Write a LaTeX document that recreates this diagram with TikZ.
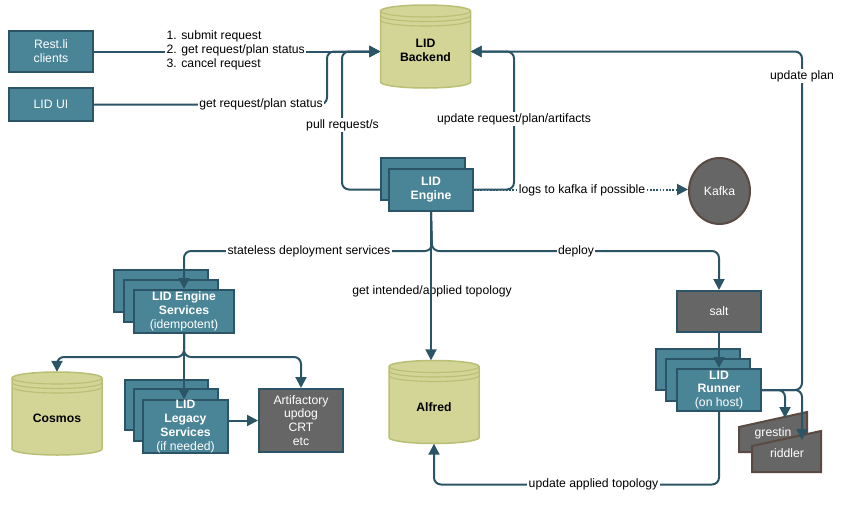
\documentclass[tikz,border=0pt]{standalone}
\usepackage{fontspec}
\setmainfont{Liberation Sans}
\usetikzlibrary{arrows.meta,calc,shapes.geometric}
\definecolor{tealf}{HTML}{4A8597}
\definecolor{tealb}{HTML}{2B5566}
\definecolor{lnc}{HTML}{2B5566}
\definecolor{cylf}{HTML}{D2D596}
\definecolor{cylb}{HTML}{B9BF74}
\definecolor{grayf}{HTML}{666666}
\definecolor{brownb}{HTML}{5A4A42}
\newcommand{\dbcyl}[2]{%
  \begin{scope}[shift={(#1,#2)}]
    \path[cyl] (-45,-35.5) -- (-45,35.5)
      arc[start angle=180,end angle=360,x radius=45pt,y radius=6pt]
      -- (45,-35.5)
      arc[start angle=0,end angle=180,x radius=45pt,y radius=6pt] -- cycle;
    \draw[draw=cylb, line width=1.1pt] (-45,-35.5) arc[start angle=180,end angle=360,x radius=45pt,y radius=6pt];
    \draw[draw=cylb, line width=1.1pt] (-45,-31) arc[start angle=180,end angle=360,x radius=45pt,y radius=6pt];
    \draw[draw=cylb, line width=1.1pt] (-45,-26.5) arc[start angle=180,end angle=360,x radius=45pt,y radius=6pt];
  \end{scope}}
\begin{document}
\begin{tikzpicture}[x=1pt,y=-1pt,
  every node/.style={font=\fontsize{12.2}{13.8}\selectfont},
  box/.style={draw=tealb, fill=tealf, line width=2pt, text=white, align=center, inner sep=0pt},
  graybox/.style={draw=tealb, fill=grayf, line width=2pt, text=white, align=center, inner sep=0pt},
  conn/.style={draw=lnc, line width=2pt, rounded corners=7pt, -{Triangle[length=11pt,width=11pt]}},
  lbl/.style={fill=white, inner sep=1.5pt, text=black, align=center},
  cyl/.style={draw=cylb, fill=cylf, line width=1.5pt},
  geo/.style={inner sep=0pt, minimum width=90pt, minimum height=83pt},
]
\useasboundingbox[fill=white] (0,0) rectangle (854,509);

% ---------- cylinders ----------
\dbcyl{425.5}{46.5}
\node[geo] (backend) at (425.5,46.5) {};
\node[align=center] (backendlbl) at (425.5,50) {\textbf{LID}\\\textbf{Backend}};
\dbcyl{57}{413.5}
\node[geo] (cosmos) at (57,413.5) {};
\node (cosmoslbl) at (57,418) {\textbf{Cosmos}};
\dbcyl{434}{402}
\node[geo] (alfred) at (434,402) {};
\node (alfredlbl) at (434,407) {\textbf{Alfred}};

% ---------- boxes ----------
\node[box, minimum width=84pt, minimum height=41pt] (rest) at (51,51.5) {Rest.li\\clients};
\node[box, minimum width=84pt, minimum height=33pt] (ui) at (51,104.5) {LID UI};

\node[box, minimum width=84pt, minimum height=42pt] (engineb) at (423,179) {};
\node[box, minimum width=84pt, minimum height=42pt] (engine) at (431,189.5) {\textbf{LID}\\\textbf{Engine}};

\node[draw=brownb, fill=grayf, ellipse, line width=2pt, text=white, minimum width=61pt, minimum height=66pt, inner sep=0pt] (kafka) at (719.5,191) {Kafka};

\node[box, minimum width=94pt, minimum height=42pt] (esvcb) at (161,291) {};
\node[box, minimum width=94pt, minimum height=42pt] (esvcm) at (170.5,301) {};
\node[box, minimum width=100pt, minimum height=43pt] (esvc) at (184,311.5) {\textbf{LID Engine}\\\textbf{Services}\\(idempotent)};

\node[box, minimum width=83pt, minimum height=50pt] (legacyb) at (166.5,405) {};
\node[box, minimum width=84pt, minimum height=52pt] (legacym) at (176,415) {};
\node[box, minimum width=85pt, minimum height=51pt] (legacy) at (185.5,426.5) {\textbf{LID}\\\textbf{Legacy}\\\textbf{Services}\\(if needed)};

\node[graybox, minimum width=84pt, minimum height=63pt] (art) at (301,420.5) {Artifactory\\updog\\CRT\\etc};

\node[graybox, minimum width=84pt, minimum height=41pt] (salt) at (719,311.5) {salt};

\node[box, minimum width=84pt, minimum height=41pt] (runnerb) at (698,369.5) {};
\node[box, minimum width=84pt, minimum height=42pt] (runnerm) at (708,380) {};
\node[box, minimum width=84pt, minimum height=42pt] (runner) at (719,390) {\textbf{LID}\\\textbf{Runner}\\(on host)};

% grestin / riddler
\node[inner sep=0pt, minimum width=68pt, minimum height=40pt] (grestin) at (773,432) {};
\draw[draw=brownb, fill=grayf, line width=2pt] (739,427) -- (807,412) -- (807,452) -- (739,452) -- cycle;
\node[text=white] (grestinlbl) at (773,433) {grestin};
\node[inner sep=0pt, minimum width=69pt, minimum height=41pt] (riddler) at (786.5,451.5) {};
\draw[draw=brownb, fill=grayf, line width=2pt] (752,446) -- (821,431) -- (821,472) -- (752,472) -- cycle;
\node[text=white] (riddlerlbl) at (787,453) {riddler};
\coordinate (grestintop) at (785,418);
\coordinate (riddlertop) at (802,440);

% ---------- connectors ----------
\draw[conn] (rest.east) -- (rest.east -| backend.west);
\draw[conn] (ui.east) -- (327,104.5) -- (327,51.5) -- (rest.east -| backend.west);
\draw[conn] (engine.center -| engineb.west) -- (342,189.5) -- (342,51.5) -- (rest.east -| backend.west);
\draw[conn] (engine.east) -- (514,189.5) -- (514,51.5) -- (rest.east -| backend.east);
\draw[conn] (runner.east) -- (802,390) -- (802,51.5) -- (rest.east -| backend.east);
\draw[draw=lnc, line width=2pt, dash pattern=on 1.6pt off 1.6pt, -{Triangle[length=11pt,width=11pt]}] (engine.east) -- (engine.east -| kafka.west);

\node (topolbl) at (432,291) {get intended/applied topology};
\draw[conn] (engine.south) -- (432,251) -| (esvc.north);
\draw[conn] (engine.south) -- (432,251) -| (salt.north);
\draw[conn] (engine.south) -- (engine.south |- alfred.north);

\draw[conn] (esvc.south) -- (184,357) -| (cosmos.north);
\draw[conn] (esvc.south) -- (esvc.south |- legacy.north);
\draw[conn] (esvc.south) -- (184,357) -| (art.north);
\draw[conn] (legacy.east |- art.west) -- (art.west);

\draw[conn] (salt.south) -- (runner.north);
\draw[conn] (runner.east) -- (785,390) -- (grestintop);
\draw[conn] (runner.east) -- (802,390) -- (riddlertop);
\draw[conn] (runner.south) -- (719,484.5) -| (alfred.south);

% ---------- labels ----------
\node[lbl, anchor=west, align=left] (l1) at (165,50.5) {1. submit request\\2. get request/plan status\\3. cancel request};
\node[lbl] (l2) at (261,104.5) {get request/plan status};
\node[lbl] (l3) at (342.5,125) {pull request/s};
\node[lbl] (l4) at (514,119) {update request/plan/artifacts};
\node[lbl] (l5) at (802,76) {update plan};
\node[lbl] (l6) at (582,190) {logs to kafka if possible};
\node[lbl] (l7) at (309,251) {stateless deployment services};
\node[lbl] (l8) at (576,251) {deploy};
\node[lbl] (l9) at (593.5,484.5) {update applied topology};
\end{tikzpicture}
\end{document}
